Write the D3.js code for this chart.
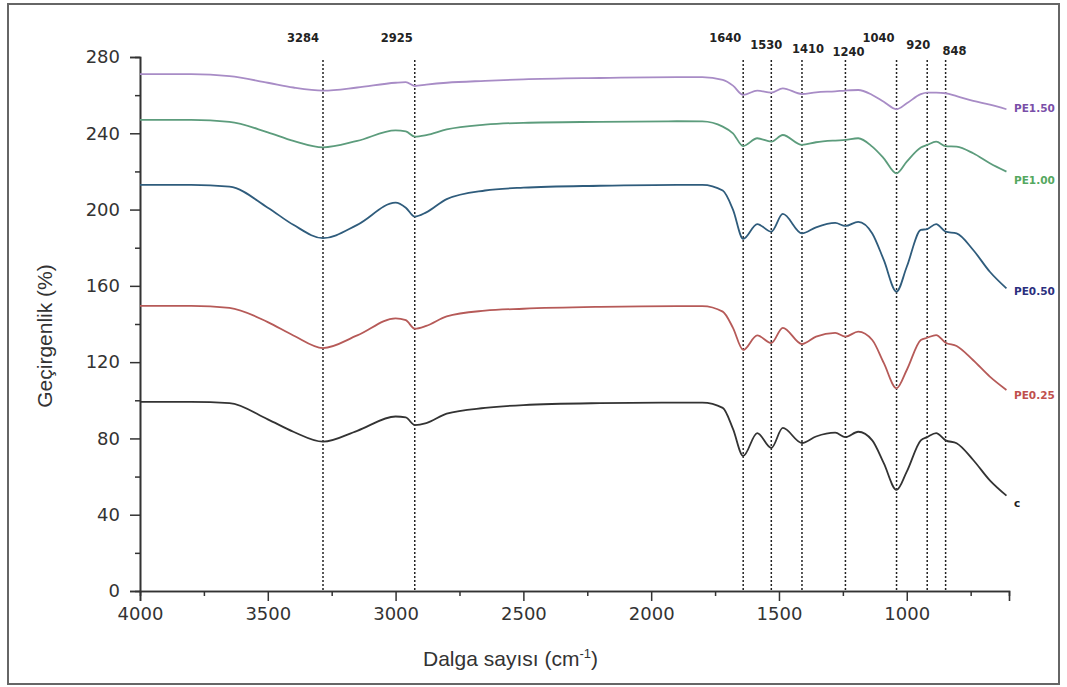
<!DOCTYPE html>
<html>
<head>
<meta charset="utf-8">
<script src="https://cdn.jsdelivr.net/npm/d3@7"></script>
<style>
  body { margin: 0; background: #fff; }
  .tick text { font-family: "DejaVu Sans", Verdana, sans-serif; font-size: 18px; fill: #333; }
  .axisTitle { font-family: "Liberation Sans", Arial, sans-serif; font-size: 21px; fill: #333; }
  .peakLabel { font-family: "DejaVu Sans", sans-serif; font-weight: bold; font-size: 11.5px; fill: #222; }
  .seriesLabel { font-family: "DejaVu Sans", sans-serif; font-weight: bold; font-size: 10.5px; }
</style>
</head>
<body>
<div id="graph"></div>
<script>
var wavenumbers = [4000, 3800, 3650, 3500, 3400, 3284, 3150, 3000, 2960, 2925, 2880, 2800, 2650, 2500, 2200, 1900, 1800, 1720, 1680, 1640,
    1585, 1530, 1485, 1410, 1355, 1280, 1240, 1190, 1135, 1090, 1040, 1000, 945, 920, 885, 848, 805, 740, 675, 610];

var seriesNames = ['c', 'PE0.25', 'PE0.50', 'PE1.00', 'PE1.50'];

var cValues = [99.2, 99.2, 98.5, 90, 83.5, 78.3, 84, 91.5, 91, 87, 88, 93, 96, 97.5, 98.5, 98.8, 98.8, 96, 85, 70.8,
    82.8, 75, 85.5, 77.6, 81, 83, 80.7, 83.5, 79, 67, 53, 62.6, 79, 80.7, 82.8, 79, 77.5, 68.7, 58, 50];
var pe025Values = [149.5, 149.5, 148.5, 141, 134, 127.4, 134, 143, 142, 137.5, 139, 144, 147, 148, 149, 149.4, 149.4, 146.5, 138, 126.4,
    134, 130, 138, 129.5, 133.4, 135.3, 133.4, 136, 131.6, 119.6, 106.3, 115.9, 131.6, 132.8, 134.2, 130.2, 128.5, 121, 112.4, 105.4];
var pe050Values = [213, 213, 212, 201, 192, 185, 192, 203.6, 201, 196.3, 198.5, 205.5, 210, 211.5, 212.5, 213, 213, 210, 200, 184.6,
    192.4, 188.4, 197.7, 187.5, 190.7, 193, 191.4, 193.6, 187.5, 173.6, 157, 170, 189.3, 189.8, 192.4, 188.4, 187.5, 178.8, 167.4, 158.7];
var pe100Values = [247, 247, 246, 240.5, 236, 232.6, 236, 241.5, 241, 238.2, 239, 242, 244.5, 245.5, 246, 246.3, 246.2, 243.5, 240, 233.3,
    237.4, 235.6, 239.1, 233.9, 235.3, 236.2, 236.5, 237.4, 233, 226.9, 219, 225.1, 232.5, 233.9, 235.6, 233.3, 233, 229.5, 224.3, 219.9];
var pe150Values = [271, 271, 270, 266.5, 264, 262.4, 264, 266.5, 266.8, 264.8, 265.5, 266.5, 267.5, 268.3, 269, 269.4, 269.4, 268, 265, 260.1,
    262.4, 261.3, 263.6, 260.6, 261.5, 262, 262.4, 262.7, 260.1, 256.5, 252.6, 255.7, 260.5, 261.3, 261.3, 261, 259.5, 257, 255, 252.6];

// marked bands
var peaks = [3284, 2925, 1640, 1530, 1410, 1240, 1040, 920, 848];

var xTicks = [4000, 3500, 3000, 2500, 2000, 1500, 1000];
var yTicks = [0, 40, 80, 120, 160, 200, 240, 280];

var allValues = [cValues, pe025Values, pe050Values, pe100Values, pe150Values];

var width = 1067;
var height = 687;

// label placement for the band numbers (dx from line, baseline y)
var peakLabelPos = [[-20, 42], [-18, 42], [-18, 41.5], [-5, 49], [6, 53], [3, 56], [-18, 41.5], [-9, 49], [9, 55]];

var lineColor = d3.scaleOrdinal()
    .domain(seriesNames)
    .range(['#333333', '#b65a58', '#2f5c7c', '#5c9c7c', '#a88cc6']);
var labelColor = d3.scaleOrdinal()
    .domain(seriesNames)
    .range(['#222222', '#c0504d', '#2b2f7e', '#55a860', '#7a4fa8']);
var labelOffset = [11, 9, 7, 12, 3];

var x = d3.scaleLinear()
    .domain([4000, 600])
    .range([140, 1009]);

var y = d3.scaleLinear()
    .domain([0, 280])
    .range([591, 57]);

var svg = d3.select('#graph')
    .append('svg')
    .attr('width', width)
    .attr('height', height);

// frame
svg.append('rect')
    .attr('x', 8)
    .attr('y', 4)
    .attr('width', 1051)
    .attr('height', 680)
    .attr('fill', 'none')
    .attr('stroke', '#666')
    .attr('stroke-width', 2);

// dotted band lines
svg.append('g').selectAll('line.peak')
    .data(peaks).enter()
    .append('line')
    .attr('class', 'peak')
    .attr('x1', d => x(d))
    .attr('x2', d => x(d))
    .attr('y1', 60)
    .attr('y2', y(0))
    .attr('stroke', '#222')
    .attr('stroke-width', 1.5)
    .attr('stroke-dasharray', '2,2');

svg.append('g').selectAll('text.peakLabel')
    .data(peaks).enter()
    .append('text')
    .attr('class', 'peakLabel')
    .attr('text-anchor', 'middle')
    .attr('x', (d, i) => x(d) + peakLabelPos[i][0])
    .attr('y', (d, i) => peakLabelPos[i][1])
    .text(d => d);

// axes
var xAxis = d3.axisBottom(x)
    .tickValues(xTicks)
    .tickSize(10)
    .tickPadding(6)
    .tickFormat(d3.format('d'));
var xMinor = d3.axisBottom(x)
    .tickValues(d3.range(3750, 600, -500))
    .tickSize(5)
    .tickFormat('');

var yAxis = d3.axisLeft(y)
    .tickValues(yTicks)
    .tickSize(10)
    .tickPadding(10);
var yMinor = d3.axisLeft(y)
    .tickValues(d3.range(20, 280, 40))
    .tickSize(5)
    .tickFormat('');

svg.append('g')
    .attr('transform', 'translate(0,' + y(0) + ')')
    .call(xMinor);
svg.append('g')
    .attr('transform', 'translate(0,' + y(0) + ')')
    .call(xAxis);
svg.append('g')
    .attr('transform', 'translate(' + x(4000) + ',0)')
    .call(yMinor);
svg.append('g')
    .attr('transform', 'translate(' + x(4000) + ',0)')
    .call(yAxis);

svg.selectAll('.domain').attr('stroke', '#333').attr('stroke-width', 1.6);
svg.selectAll('.tick line').attr('stroke', '#333').attr('stroke-width', 1.5);

// axis titles
var xTitle = svg.append('text')
    .attr('class', 'axisTitle')
    .attr('x', 423)
    .attr('y', 666);
xTitle.append('tspan').text('Dalga sayısı (cm');
xTitle.append('tspan').attr('dy', -8).attr('font-size', 13).text('-1');
xTitle.append('tspan').attr('dy', 8).text(')');

svg.append('text')
    .attr('class', 'axisTitle')
    .attr('text-anchor', 'middle')
    .attr('transform', 'translate(52,336) rotate(-90)')
    .text('Geçirgenlik (%)');

// spectra
var line = d3.line()
    .x((d, i) => x(wavenumbers[i]))
    .y(d => y(d))
    .curve(d3.curveMonotoneX);

svg.append('g').selectAll('path.spectrum')
    .data(allValues).enter()
    .append('path')
    .attr('class', 'spectrum')
    .attr('d', d => line(d))
    .attr('fill', 'none')
    .attr('stroke', (d, i) => lineColor(seriesNames[i]))
    .attr('stroke-width', 1.8);

svg.append('g').selectAll('text.seriesLabel')
    .data(allValues).enter()
    .append('text')
    .attr('class', 'seriesLabel')
    .attr('x', 1014)
    .attr('y', (d, i) => y(d[d.length - 1]) + labelOffset[i])
    .attr('fill', (d, i) => labelColor(seriesNames[i]))
    .text((d, i) => seriesNames[i]);
</script>
</body>
</html>
